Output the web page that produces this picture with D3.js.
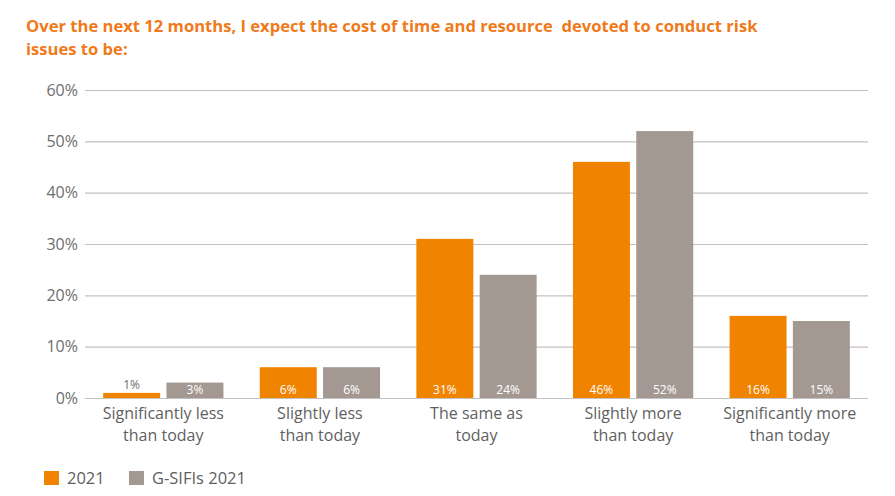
<!DOCTYPE html>
<html>
<head>
<meta charset="utf-8">
<script src="https://cdn.jsdelivr.net/npm/d3@7"></script>
<style>
  body { margin: 0; background: #fff; }
  svg text { font-family: "Open Sans", sans-serif; }
</style>
</head>
<body>
<div id="chart"></div>
<script>
// data
const categories = [
  ["Significantly less", "than today"],
  ["Slightly less", "than today"],
  ["The same as", "today"],
  ["Slightly more", "than today"],
  ["Significantly more", "than today"]
];
const seriesNames = ["2021", "G-SIFIs 2021"];
const values2021 = [1, 6, 31, 46, 16];
const valuesGsifi = [3, 6, 24, 52, 15];
const yTicks = [0, 10, 20, 30, 40, 50, 60];
const titleLines = [
  "Over the next 12 months, I expect the cost of time and resource  devoted to conduct risk",
  "issues to be:"
];

const colors = ["#f08300", "#a39892"];
const size = {width: 895, height: 496};
const margin = {top: 90, right: 27, bottom: 98, left: 85};
const width = size.width - margin.left - margin.right;
const height = size.height - margin.top - margin.bottom;

const svg = d3.select("#chart").append("svg")
    .attr("width", size.width)
    .attr("height", size.height);

// title
svg.append("g").selectAll("text")
    .data(titleLines)
    .join("text")
    .attr("x", 26)
    .attr("y", (d, i) => 32 + i * 23)
    .attr("fill", "#f07a1a")
    .attr("font-size", 16.6)
    .attr("font-weight", "bold")
    .style("white-space", "pre")
    .text(d => d);

const g = svg.append("g")
    .attr("transform", "translate(" + margin.left + "," + margin.top + ")");

const xScale = d3.scaleBand()
    .domain(d3.range(categories.length))
    .range([0, width])
    .paddingInner(0.232)
    .paddingOuter(0.116);
const xSub = d3.scaleBand()
    .domain(d3.range(seriesNames.length))
    .range([0, xScale.bandwidth()])
    .paddingInner(0.1);
const yScale = d3.scaleLinear().domain([0, 60]).range([height, 0]);

// gridlines + y labels
const yAxis = g.append("g")
    .call(d3.axisLeft(yScale).tickValues(yTicks).tickSize(-width).tickFormat(d => d + "%"));
yAxis.select(".domain").remove();
yAxis.selectAll(".tick line").attr("stroke", "#c4c0bf").attr("stroke-width", 1.2);
yAxis.selectAll(".tick text")
    .attr("x", -7)
    .attr("fill", "#6e6e6e")
    .attr("font-size", 16);

// bars
const series = [values2021, valuesGsifi];
const groups = g.selectAll(".catG")
    .data(categories.map((c, i) => i))
    .join("g")
    .attr("class", "catG")
    .attr("transform", i => "translate(" + xScale(i) + ",0)");

groups.selectAll("rect")
    .data(i => series.map((s, k) => ({k: k, v: s[i]})))
    .join("rect")
    .attr("x", d => xSub(d.k))
    .attr("y", d => yScale(d.v))
    .attr("width", xSub.bandwidth())
    .attr("height", d => height - yScale(d.v))
    .attr("fill", d => colors[d.k]);

// value labels: inside at bottom, or above when the bar is too short
groups.selectAll(".valLabel")
    .data(i => series.map((s, k) => ({k: k, v: s[i]})))
    .join("text")
    .attr("class", "valLabel")
    .attr("x", d => xSub(d.k) + xSub.bandwidth() / 2)
    .attr("y", d => height - yScale(d.v) < 14 ? yScale(d.v) - 4 : height - 4)
    .attr("text-anchor", "middle")
    .attr("font-size", 12)
    .attr("fill", d => height - yScale(d.v) < 14 ? "#6e6e6e" : "#ffffff")
    .text(d => d.v + "%");

// category labels
groups.append("text")
    .attr("text-anchor", "middle")
    .attr("fill", "#5f5f5f")
    .attr("font-size", 16)
    .selectAll("tspan")
    .data(i => categories[i])
    .join("tspan")
    .attr("x", xScale.bandwidth() / 2)
    .attr("y", (d, j) => height + 21 + j * 22)
    .text(d => d);

// legend
const legendX = [44, 129];
const legend = svg.append("g").selectAll("g")
    .data(seriesNames)
    .join("g")
    .attr("transform", (d, i) => "translate(" + legendX[i] + ",471)");
legend.append("rect")
    .attr("width", 15)
    .attr("height", 14)
    .attr("fill", (d, i) => colors[i]);
legend.append("text")
    .attr("x", 23)
    .attr("y", 13)
    .attr("font-size", 16.5)
    .attr("fill", "#5f5f5f")
    .text(d => d);
</script>
</body>
</html>
